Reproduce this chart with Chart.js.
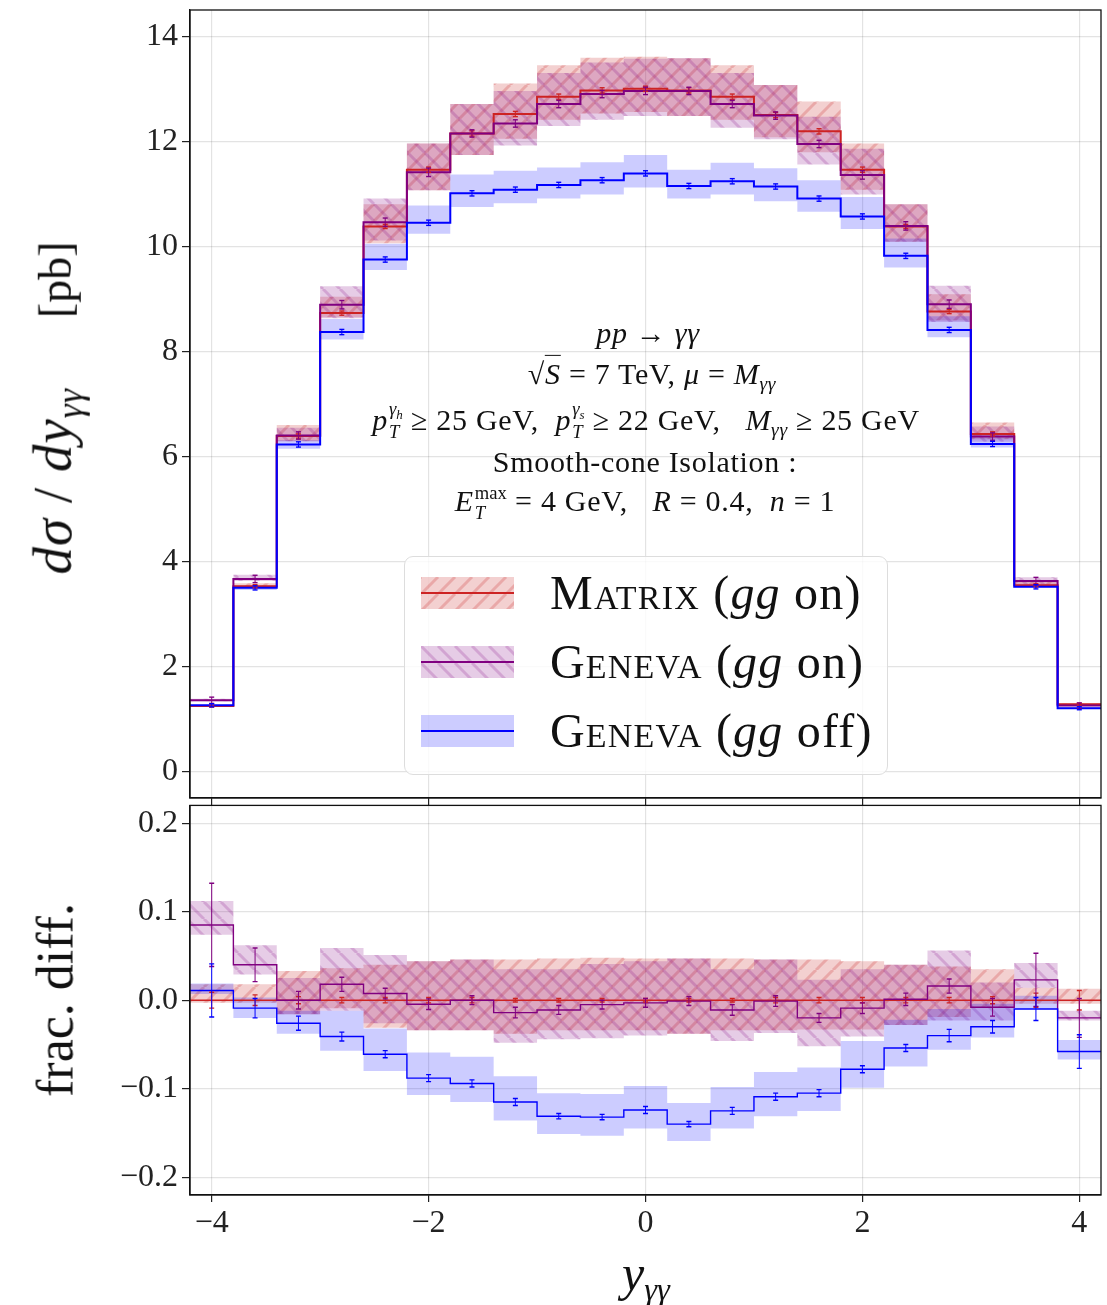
<!DOCTYPE html>
<html><head><meta charset="utf-8">
<script src="https://cdn.jsdelivr.net/npm/chart.js@4.4.1/dist/chart.umd.min.js"></script>
<style>
html,body{margin:0;padding:0;background:#fff;}
body{width:1107px;height:1305px;position:relative;overflow:hidden;font-family:"Liberation Serif","DejaVu Serif",serif;color:#111;}
#c1{position:absolute;left:0;top:0;}
#c2{position:absolute;left:0;top:800px;}
.ctr{position:absolute;transform:translate(-50%,-50%);white-space:nowrap;}
.ann{font-size:30px;letter-spacing:0.7px;}
.ss{display:inline-block;vertical-align:-0.42em;line-height:1.05;font-size:0.62em;text-align:left;margin-left:1px;letter-spacing:0;}
.ss>span{display:block;}
.sb{font-size:0.65em;vertical-align:-0.32em;}
.sqrt span{border-top:1.5px solid #111;padding-top:1px;}
#legend{position:absolute;left:404px;top:556px;width:484px;height:219px;border:1.5px solid #ddd;border-radius:9px;background:rgba(255,255,255,0.8);box-sizing:border-box;}
.sw{position:absolute;left:16px;}
.lt{position:absolute;left:145px;font-size:48px;letter-spacing:1.2px;white-space:nowrap;line-height:1;}
.sc{font-variant:small-caps;}
</style>
</head><body>
<canvas id="c1" width="1107" height="806"></canvas>
<canvas id="c2" width="1107" height="505"></canvas>

<div class="ctr" style="left:56px;top:408px;transform:translate(-50%,-50%) rotate(-90deg);font-size:46px;"><span style="font-size:55px;letter-spacing:1px"><i>dσ</i> / <i>dy</i><span class="sb"><i>γγ</i></span></span><span style="display:inline-block;width:70px"></span>[pb]</div>
<div class="ctr" style="left:55px;top:1000px;transform:translate(-50%,-50%) rotate(-90deg);font-size:52px;">frac. diff.</div>
<div class="ctr" style="left:646px;top:1276px;font-size:50px;"><i>y</i><span class="sb"><i>γγ</i></span></div>

<div class="ctr ann" style="left:648px;top:333px;"><i>pp</i> → <i>γγ</i></div>
<div class="ctr ann" style="left:652px;top:376px;"><span class="sqrt">√<span><i>S</i></span></span> = 7 TeV, <i>μ</i> = <i>M</i><span class="sb"><i>γγ</i></span></div>
<div class="ctr ann" style="left:646px;top:420px;"><i>p</i><span class="ss"><span><i>γ<sub style="font-size:0.7em">h</sub></i></span><span><i>T</i></span></span> ≥ 25 GeV,&nbsp; <i>p</i><span class="ss"><span><i>γ<sub style="font-size:0.7em">s</sub></i></span><span><i>T</i></span></span> ≥ 22 GeV,&nbsp;&nbsp; <i>M</i><span class="sb"><i>γγ</i></span> ≥ 25 GeV</div>
<div class="ctr ann" style="left:645px;top:462px;">Smooth-cone Isolation :</div>
<div class="ctr ann" style="left:645px;top:503px;"><i>E</i><span class="ss"><span>max</span><span><i>T</i></span></span> = 4 GeV,&nbsp;&nbsp; <i>R</i> = 0.4,&nbsp; <i>n</i> = 1</div>

<div id="legend">
  <canvas class="sw" id="sw1" width="93" height="32" style="top:20px"></canvas>
  <div class="lt" style="top:12px"><span class="sc">Matrix</span> (<i>gg</i> on)</div>
  <canvas class="sw" id="sw2" width="93" height="32" style="top:89px"></canvas>
  <div class="lt" style="top:81px"><span class="sc">Geneva</span> (<i>gg</i> on)</div>
  <canvas class="sw" id="sw3" width="93" height="32" style="top:158px"></canvas>
  <div class="lt" style="top:150px"><span class="sc">Geneva</span> (<i>gg</i> off)</div>
</div>

<script>
// ---------------- data ----------------
const binEdges = [-4.2,-3.8,-3.4,-3.0,-2.6,-2.2,-1.8,-1.4,-1.0,-0.6,-0.2,0.2,0.6,1.0,1.4,1.8,2.2,2.6,3.0,3.4,3.8,4.2];
const xTicks = [-4,-2,0,2,4];
const yTicksTop = [0,2,4,6,8,10,12,14];
const yTicksRatio = [-0.2,-0.1,0,0.1,0.2];

// top panel: d sigma / d y  [pb]
const matrixOn   = [1.25,3.53,6.39,8.73,10.38,11.46,12.15,12.52,12.85,12.97,13.00,12.97,12.85,12.50,12.19,11.46,10.38,8.76,6.43,3.55,1.285];
const matrixOnLo = [1.245,3.52,6.29,8.65,10.06,11.07,11.74,12.05,12.41,12.53,12.56,12.48,12.41,12.08,11.79,11.08,10.09,8.59,6.33,3.54,1.28];
const matrixOnHi = [1.27,3.59,6.60,9.04,10.80,11.96,12.71,13.10,13.45,13.59,13.61,13.58,13.45,13.07,12.76,11.96,10.80,9.09,6.65,3.61,1.30];
const matrixOnErr= [0.02,0.03,0.04,0.04,0.04,0.05,0.05,0.05,0.05,0.05,0.05,0.05,0.05,0.05,0.05,0.05,0.04,0.04,0.04,0.03,0.02];

const genevaOn   = [1.36,3.67,6.40,8.89,10.46,11.41,12.15,12.34,12.71,12.90,12.96,12.96,12.71,12.49,11.95,11.36,10.39,8.90,6.38,3.63,1.26];
const genevaOnLo = [1.34,3.63,6.29,8.63,10.11,11.07,11.74,11.92,12.29,12.41,12.48,12.48,12.26,12.04,11.56,10.99,10.09,8.56,6.28,3.56,1.255];
const genevaOnHi = [1.39,3.75,6.55,9.24,10.91,11.96,12.71,12.96,13.30,13.50,13.57,13.58,13.30,13.07,12.47,11.86,10.80,9.25,6.57,3.70,1.27];
const genevaOnErr= [0.06,0.07,0.07,0.08,0.08,0.08,0.07,0.07,0.07,0.07,0.07,0.07,0.07,0.07,0.07,0.08,0.08,0.08,0.07,0.07,0.05];

const genevaOff   = [1.265,3.50,6.23,8.37,9.75,10.45,11.01,11.08,11.17,11.26,11.39,11.15,11.24,11.14,10.91,10.57,9.82,8.41,6.24,3.52,1.21];
const genevaOffLo = [1.255,3.46,6.15,8.23,9.55,10.24,10.75,10.82,10.91,10.99,11.12,10.91,10.99,10.86,10.66,10.33,9.60,8.27,6.17,3.51,1.20];
const genevaOffHi = [1.275,3.54,6.31,8.62,10.05,10.78,11.37,11.44,11.50,11.60,11.74,11.46,11.59,11.49,11.26,10.94,10.15,8.67,6.40,3.57,1.23];
const genevaOffErr= [0.03,0.04,0.05,0.05,0.05,0.05,0.05,0.05,0.05,0.05,0.05,0.05,0.05,0.05,0.05,0.05,0.05,0.05,0.05,0.04,0.03];

// bottom panel: fractional difference w.r.t. MATRIX
const rMatrix   = [0,0,0,0,0,0,0,0,0,0,0,0,0,0,0,0,0,0,0,0,0];
const rMatrixLo = [-0.003,-0.003,-0.016,-0.009,-0.031,-0.034,-0.034,-0.038,-0.034,-0.034,-0.034,-0.038,-0.034,-0.034,-0.033,-0.033,-0.028,-0.019,-0.008,-0.004,-0.004];
const rMatrixHi = [0.018,0.018,0.033,0.036,0.040,0.044,0.046,0.046,0.047,0.048,0.047,0.047,0.047,0.046,0.046,0.044,0.040,0.038,0.035,0.014,0.013];
const rMatrixErr= [0.009,0.006,0.004,0.003,0.003,0.003,0.003,0.002,0.002,0.002,0.002,0.002,0.002,0.003,0.003,0.003,0.003,0.003,0.004,0.008,0.011];

const rGenevaOn   = [0.085,0.040,0.000,0.018,0.0075,-0.0045,0.000,-0.014,-0.011,-0.005,-0.003,-0.001,-0.011,-0.001,-0.020,-0.009,0.001,0.016,-0.008,0.023,-0.020];
const rGenevaOnLo = [0.074,0.029,-0.016,-0.012,-0.026,-0.034,-0.034,-0.048,-0.044,-0.043,-0.040,-0.038,-0.046,-0.037,-0.052,-0.041,-0.028,-0.023,-0.023,0.014,-0.023];
const rGenevaOnHi = [0.112,0.062,0.025,0.059,0.051,0.044,0.046,0.035,0.035,0.041,0.044,0.047,0.035,0.046,0.023,0.035,0.040,0.056,0.020,0.042,-0.012];
const rGenevaOnErr= [0.047,0.019,0.010,0.008,0.006,0.006,0.005,0.006,0.005,0.005,0.005,0.005,0.006,0.006,0.005,0.006,0.007,0.008,0.010,0.030,0.022];

const rGenevaOff   = [0.011,-0.009,-0.026,-0.041,-0.061,-0.088,-0.094,-0.115,-0.131,-0.132,-0.124,-0.140,-0.125,-0.109,-0.105,-0.078,-0.054,-0.040,-0.030,-0.010,-0.058];
const rGenevaOffLo = [0.007,-0.020,-0.038,-0.057,-0.080,-0.107,-0.115,-0.136,-0.151,-0.153,-0.145,-0.159,-0.145,-0.131,-0.125,-0.099,-0.075,-0.056,-0.042,-0.010,-0.067];
const rGenevaOffHi = [0.019,0.003,-0.012,-0.012,-0.032,-0.059,-0.064,-0.086,-0.105,-0.106,-0.097,-0.116,-0.098,-0.081,-0.076,-0.046,-0.022,-0.010,-0.004,0.005,-0.045];
const rGenevaOffErr= [0.030,0.011,0.008,0.005,0.004,0.004,0.004,0.004,0.003,0.003,0.004,0.003,0.004,0.004,0.004,0.004,0.004,0.007,0.007,0.013,0.019];

// ---------------- styles ----------------
const RED = 'rgb(205,35,35)', PURPLE = 'rgb(128,0,128)', BLUE = 'rgb(0,0,255)';
function hatch(bg, line, dir){
  const s = 17, t = document.createElement('canvas'); t.width = s; t.height = s;
  const g = t.getContext('2d');
  g.fillStyle = bg; g.fillRect(0,0,s,s);
  g.strokeStyle = line; g.lineWidth = 3;
  for (const k of [-s,0,s]){
    g.beginPath();
    if (dir > 0){ g.moveTo(k, s); g.lineTo(k+s, 0); }
    else { g.moveTo(k, 0); g.lineTo(k+s, s); }
    g.stroke();
  }
  return g.createPattern(t, 'repeat');
}
const redFill = hatch('rgba(200,40,40,0.22)', 'rgba(200,40,40,0.24)', 1);
const purpleFill = hatch('rgba(128,0,128,0.2)', 'rgba(128,0,128,0.2)', -1);
const blueFill = 'rgba(0,0,255,0.2)';

// ---------------- helpers ----------------
const centers = binEdges.slice(0,-1).map((e,i)=> (e + binEdges[i+1]) / 2);
function stepPts(vals){
  const p = vals.map((v,i)=>({x: binEdges[i], y: v}));
  p.push({x: binEdges[vals.length], y: vals[vals.length-1]});
  return p;
}
function errPts(vals, errs){
  const p = [];
  vals.forEach((v,i)=>{ p.push({x:centers[i], y:v-errs[i]}, {x:centers[i], y:v+errs[i]}, {x:centers[i], y:null}); });
  return p;
}
// rank: 0 = red (drawn lowest), 1 = purple, 2 = blue (drawn on top)
function series(vals, lo, hi, err, color, fill, lw, rank){
  return [
    {data: stepPts(hi), stepped: true, borderWidth: 0, pointRadius: 0, fill: '+1', backgroundColor: fill, order: 30 - rank},
    {data: stepPts(lo), stepped: true, borderWidth: 0, pointRadius: 0, fill: false, order: 30 - rank},
    {data: stepPts(vals), stepped: true, borderColor: color, borderWidth: lw, pointRadius: 0, fill: false, order: 20 - rank},
    {data: errPts(vals, err), borderColor: color, borderWidth: 1, spanGaps: false, pointStyle: 'line', pointRadius: 2.5,
     pointBorderColor: color, pointBorderWidth: 1.4, fill: false, order: 10 - rank}
  ];
}
const framePlugin = {id:'frame', afterDraw(c){
  const a = c.chartArea, g = c.ctx; g.save(); g.strokeStyle = '#111'; g.lineWidth = 1.3;
  g.strokeRect(a.left, a.top, a.right-a.left, a.bottom-a.top); g.restore();
}};
const fmt = v => (v < 0 ? '\u2212' : '') + Math.abs(v);
const tickFont = {family: 'Liberation Serif', size: 32};
const gridCol = 'rgba(0,0,0,0.11)';

function xScale(showLabels, h){
  return {type:'linear', min: binEdges[0], max: binEdges[binEdges.length-1],
    afterBuildTicks: s => { s.ticks = xTicks.map(v=>({value:v})); },
    afterFit: s => { s.height = h; s.paddingLeft = 0; s.paddingRight = 0; },
    grid: {color: gridCol, lineWidth: 1.2, tickLength: 7, tickColor: '#222', tickWidth: 1.2},
    border: {display: true, color: '#111', width: 1.3},
    ticks: {display: showLabels, font: tickFont, color: '#222', padding: 2, callback: v => fmt(v)}};
}
function yScale(min, max, ticks, cb){
  return {type:'linear', min: min, max: max,
    afterBuildTicks: s => { s.ticks = ticks.map(v=>({value:v})); },
    afterFit: s => { s.width = 190; s.paddingTop = 0; s.paddingBottom = 0; },
    grid: {color: gridCol, lineWidth: 1.2, tickLength: 8, tickColor: '#222', tickWidth: 1.2},
    border: {display: true, color: '#111', width: 1.3},
    ticks: {font: tickFont, color: '#222', padding: 4, callback: cb}};
}
const common = {responsive:false, animation:false, events:[],
  plugins:{legend:{display:false}, tooltip:{enabled:false}},
  elements:{line:{tension:0}}};

new Chart(document.getElementById('c1'), {
  type: 'line',
  data: {datasets: [
    ...series(matrixOn, matrixOnLo, matrixOnHi, matrixOnErr, RED, redFill, 2, 0),
    ...series(genevaOn, genevaOnLo, genevaOnHi, genevaOnErr, PURPLE, purpleFill, 2, 1),
    ...series(genevaOff, genevaOffLo, genevaOffHi, genevaOffErr, BLUE, blueFill, 2, 2)
  ]},
  options: Object.assign({}, common, {
    layout: {padding: {left:0, right:6, top:10, bottom:0}},
    scales: {x: xScale(false, 8), y: yScale(-0.5, 14.5, yTicksTop, v => fmt(v))}
  }),
  plugins: [framePlugin]
});

new Chart(document.getElementById('c2'), {
  type: 'line',
  data: {datasets: [
    ...series(rMatrix, rMatrixLo, rMatrixHi, rMatrixErr, RED, redFill, 1.4, 0),
    ...series(rGenevaOn, rGenevaOnLo, rGenevaOnHi, rGenevaOnErr, PURPLE, purpleFill, 1.4, 1),
    ...series(rGenevaOff, rGenevaOffLo, rGenevaOffHi, rGenevaOffErr, BLUE, blueFill, 1.4, 2)
  ]},
  options: Object.assign({}, common, {
    layout: {padding: {left:0, right:6, top:3, bottom:0}},
    scales: {x: xScale(true, 110), y: yScale(-0.22, 0.22, yTicksRatio, v => (v < -1e-9 ? '\u2212' : '') + Math.abs(v).toFixed(1))}
  }),
  plugins: [framePlugin]
});

// legend swatches
function swatch(id, fill, color){
  const c = document.getElementById(id), g = c.getContext('2d');
  g.fillStyle = fill; g.fillRect(0,0,c.width,c.height);
  g.strokeStyle = color; g.lineWidth = 2; g.beginPath(); g.moveTo(0,c.height/2); g.lineTo(c.width,c.height/2); g.stroke();
}
swatch('sw1', redFill, RED);
swatch('sw2', purpleFill, PURPLE);
swatch('sw3', blueFill, BLUE);
</script>
</body></html>
